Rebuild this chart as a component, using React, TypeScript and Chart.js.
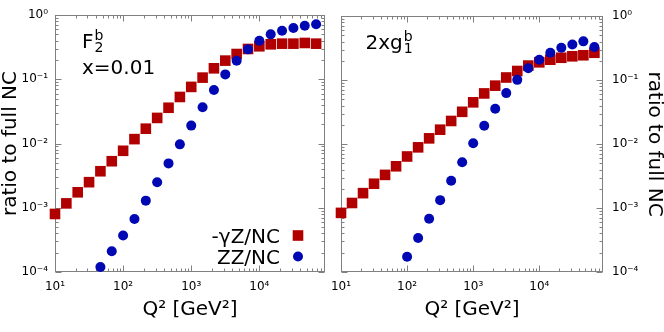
import React, { useEffect, useRef } from 'react';
import { Chart, registerables } from 'chart.js';

Chart.register(...registerables);
Chart.defaults.font.family = "'DejaVu Sans', sans-serif";

// ---- data ----
const q2 = [10, 14.68, 21.54, 31.62, 46.42, 68.13, 100, 146.8, 215.4, 316.2, 464.2, 681.3,
  1000, 1468, 2154, 3162, 4642, 6813, 10000, 14678, 21544, 31623, 46416, 68129];

const f2GammaZ = [8.0e-4, 1.17e-3, 1.74e-3, 2.5e-3, 3.7e-3, 5.3e-3, 7.7e-3, 0.0117, 0.017, 0.025,
  0.036, 0.053, 0.076, 0.106, 0.148, 0.195, 0.247, 0.296, 0.326, 0.35, 0.358, 0.358, 0.367, 0.358];
const f2ZZ = [null, null, null, null, 1.2e-4, 2.1e-4, 3.7e-4, 6.7e-4, 1.29e-3, 2.5e-3, 4.9e-3, 9.7e-3,
  0.019, 0.0366, 0.068, 0.119, 0.194, 0.292, 0.398, 0.5, 0.57, 0.628, 0.68, 0.716];

const g1GammaZ = [8.4e-4, 1.2e-3, 1.71e-3, 2.4e-3, 3.3e-3, 4.5e-3, 6.4e-3, 8.9e-3, 0.0123, 0.0168,
  0.023, 0.032, 0.045, 0.062, 0.082, 0.11, 0.139, 0.169, 0.19, 0.209, 0.224, 0.236, 0.245, 0.268];
const g1ZZ = [null, null, null, null, null, null, 1.73e-4, 3.4e-4, 6.8e-4, 1.33e-3, 2.67e-3, 5.2e-3,
  0.0103, 0.0194, 0.0357, 0.0627, 0.101, 0.153, 0.209, 0.268, 0.321, 0.362, 0.404, 0.33];

const seriesLabels = ['-γZ/NC', 'ZZ/NC'];
const xTickValues = [10, 100, 1000, 10000];
const xTickLabels = ['10¹', '10²', '10³', '10⁴'];
const yTickValues = [1e-4, 1e-3, 1e-2, 1e-1, 1];
const yTickLabels = ['10⁻⁴', '10⁻³', '10⁻²', '10⁻¹', '10⁰'];
const xTitle = 'Q² [GeV²]';
const yTitle = 'ratio to full NC';

const X_MIN = 10;
const X_MAX = 92000;
const Y_MIN = 1e-4;
const Y_MAX = 1;

const RED = '#b00000';
const BLUE = '#0008b4';

function toPoints(xs: number[], ys: (number | null)[]) {
  const out: { x: number; y: number }[] = [];
  xs.forEach((x, i) => {
    const y = ys[i];
    if (y != null) out.push({ x, y });
  });
  return out;
}

function logTicks(min: number, max: number) {
  const out: { v: number; major: boolean }[] = [];
  const e0 = Math.floor(Math.log10(min));
  const e1 = Math.ceil(Math.log10(max));
  for (let e = e0; e <= e1; e++) {
    for (let m = 1; m <= 9; m++) {
      const v = m * Math.pow(10, e);
      if (v >= min * 0.9999 && v <= max * 1.0001) out.push({ v, major: m === 1 });
    }
  }
  return out;
}

const framePlugin = {
  id: 'frameTicks',
  beforeDatasetsDraw(chart: any) {
    const { ctx, chartArea: a } = chart;
    const xs = chart.scales.x;
    const ys = chart.scales.y;
    const L = Math.round(a.left) + 0.5;
    const R = Math.round(a.right) - 0.5;
    const T = Math.round(a.top) + 0.5;
    const B = Math.round(a.bottom) - 0.5;
    ctx.save();
    ctx.strokeStyle = '#808080';
    ctx.lineWidth = 1;
    ctx.beginPath();
    for (const t of logTicks(xs.min, xs.max)) {
      const p = Math.round(xs.getPixelForValue(t.v)) + 0.5;
      const len = t.major ? 6 : 3;
      ctx.moveTo(p, B); ctx.lineTo(p, B - len);
      ctx.moveTo(p, T); ctx.lineTo(p, T + len);
    }
    for (const t of logTicks(ys.min, ys.max)) {
      const p = Math.round(ys.getPixelForValue(t.v)) + 0.5;
      const len = t.major ? 6 : 3;
      ctx.moveTo(L, p); ctx.lineTo(L + len, p);
      ctx.moveTo(R, p); ctx.lineTo(R - len, p);
    }
    ctx.stroke();
    ctx.strokeRect(L, T, R - L, B - T);
    ctx.restore();
  },
};

const textPlugin = {
  id: 'panelText',
  afterDraw(chart: any, _args: any, opts: any) {
    const { ctx } = chart;
    ctx.save();
    ctx.fillStyle = '#000';
    ctx.textBaseline = 'alphabetic';
    ctx.textAlign = 'left';
    const big = "20px 'DejaVu Sans'";
    const small = "14px 'DejaVu Sans'";
    if (opts.label) {
      const l = opts.label;
      ctx.font = big;
      ctx.fillText(l.base, l.x, l.y);
      const w = ctx.measureText(l.base).width;
      ctx.font = small;
      ctx.fillText(l.sup, l.x + w + 1, l.y - 7.5);
      ctx.fillText(l.sub, l.x + w + 1, l.y + 4.5);
      if (l.line2) {
        ctx.font = big;
        ctx.fillText(l.line2, l.x, l.y2);
      }
    }
    if (opts.legend) {
      const g = opts.legend;
      chart.data.datasets.forEach((ds: any, i: number) => {
        const y = g.ys[i];
        ctx.font = big;
        ctx.textAlign = 'right';
        ctx.fillStyle = '#000';
        ctx.fillText(ds.label, g.xText, y);
        const cy = y - 7.5;
        ctx.fillStyle = ds.backgroundColor;
        if (ds.pointStyle === 'rect') {
          const h = ds.pointRadius * Math.SQRT1_2;
          ctx.fillRect(g.xMarker - h, cy - h, 2 * h, 2 * h);
        } else {
          ctx.beginPath();
          ctx.arc(g.xMarker, cy, ds.pointRadius, 0, Math.PI * 2);
          ctx.fill();
        }
      });
    }
    ctx.restore();
  },
};

function buildConfig(side: 'left' | 'right', gammaZ: (number | null)[], zz: (number | null)[], textOpts: any) {
  const left = side === 'left';
  return {
    type: 'scatter',
    data: {
      datasets: [
        {
          label: seriesLabels[0],
          data: toPoints(q2, gammaZ),
          pointStyle: 'rect',
          pointRadius: 7.5,
          backgroundColor: RED,
          borderColor: RED,
          borderWidth: 0,
          clip: false,
          order: 1,
        },
        {
          label: seriesLabels[1],
          data: toPoints(q2, zz),
          pointStyle: 'circle',
          pointRadius: 5,
          backgroundColor: BLUE,
          borderColor: BLUE,
          borderWidth: 0,
          clip: false,
          order: 0,
        },
      ],
    },
    options: {
      responsive: false,
      animation: false,
      devicePixelRatio: 1,
      events: [],
      layout: { padding: left ? { left: 0, right: 8, top: 15, bottom: 0 } : { left: 23, right: 0, top: 15, bottom: 0 } },
      plugins: {
        legend: { display: false },
        tooltip: { enabled: false },
        panelText: textOpts,
      },
      scales: {
        x: {
          type: 'logarithmic',
          position: 'bottom',
          min: X_MIN,
          max: X_MAX,
          afterBuildTicks: (s: any) => { s.ticks = xTickValues.map((v) => ({ value: v })); },
          afterFit: (s: any) => { s.height = 60; },
          grid: { display: false, drawTicks: false },
          border: { display: false },
          ticks: {
            callback: (_v: any, i: number) => xTickLabels[i],
            font: { size: 12 },
            color: '#000',
            padding: 8,
            maxRotation: 0,
            autoSkip: false,
          },
          title: { display: true, text: xTitle, font: { size: 20 }, color: '#000', padding: { top: 0, bottom: 10 } },
        },
        y: {
          type: 'logarithmic',
          position: side,
          min: Y_MIN,
          max: Y_MAX,
          afterBuildTicks: (s: any) => { s.ticks = yTickValues.map((v) => ({ value: v })); },
          afterFit: (s: any) => { s.width = left ? 55 : 61; },
          grid: { display: false, drawTicks: false },
          border: { display: false },
          ticks: {
            callback: (_v: any, i: number) => yTickLabels[i],
            font: { size: 12 },
            color: '#000',
            padding: left ? 7 : 9,
            autoSkip: false,
          },
          title: { display: true, text: yTitle, font: { size: 20 }, color: '#000', padding: { top: left ? -1 : -2, bottom: 0 } },
        },
      },
    },
    plugins: [framePlugin, textPlugin],
  } as any;
}

export default function App() {
  const leftRef = useRef<HTMLCanvasElement>(null);
  const rightRef = useRef<HTMLCanvasElement>(null);

  useEffect(() => {
    const c1 = new Chart(leftRef.current as HTMLCanvasElement, buildConfig('left', f2GammaZ, f2ZZ, {
      label: { base: 'F', sup: 'b', sub: '2', x: 82, y: 47.5, line2: 'x=0.01', y2: 74 },
      legend: { xText: 280, xMarker: 298, ys: [243, 264] },
    }));
    const c2 = new Chart(rightRef.current as HTMLCanvasElement, buildConfig('right', g1GammaZ, g1ZZ, {
      label: { base: '2xg', sup: 'b', sub: '1', x: 47.5, y: 48.5 },
    }));
    return () => { c1.destroy(); c2.destroy(); };
  }, []);

  return (
    <div style={{ position: 'absolute', left: 0, top: 0, width: 664, height: 332, background: '#fff' }}>
      <canvas ref={leftRef} width={333} height={332} style={{ position: 'absolute', left: 0, top: 0, width: 333, height: 332 }} />
      <canvas ref={rightRef} width={346} height={332} style={{ position: 'absolute', left: 318, top: 0, width: 346, height: 332 }} />
    </div>
  );
}
